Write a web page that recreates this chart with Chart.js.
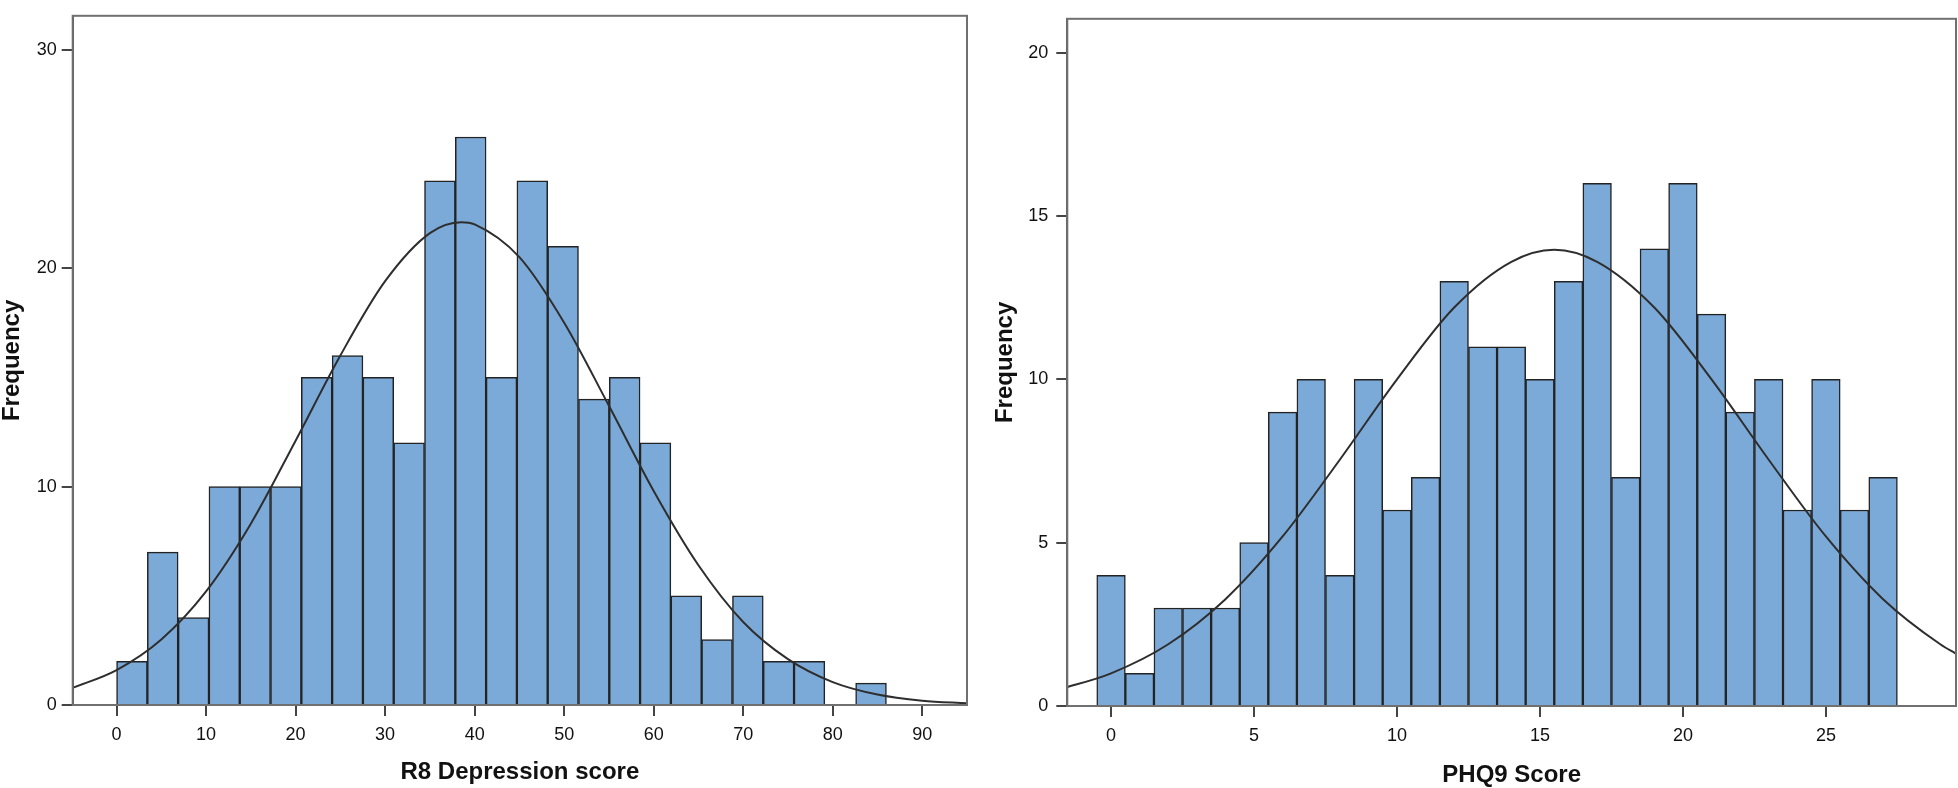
<!DOCTYPE html>
<html lang="en">
<head>
<meta charset="UTF-8">
<title>R8 and PHQ9 histograms</title>
<script src="https://cdn.jsdelivr.net/npm/chart.js"></script>
<style>
  body { margin: 0; background: #fff; }
  .panel { position: absolute; top: 0; height: 788px; }
  #left { left: 0; width: 975px; }
  #right { left: 975px; width: 983px; }
</style>
</head>
<body>
<div class="panel" id="left"><canvas id="r8Chart"></canvas></div>
<div class="panel" id="right"><canvas id="phqChart"></canvas></div>
<script>
// R8 Depression score: 25 bins of about 3.44 points
const r8BinCenters = [1.72, 5.16, 8.6, 12.04, 15.48, 18.92, 22.36, 25.8, 29.24, 32.68, 36.12, 39.56, 43.0,
                      46.44, 49.88, 53.32, 56.76, 60.2, 63.64, 67.08, 70.52, 73.96, 77.4, 80.84, 84.28];
const r8Counts = [2, 7, 4, 10, 10, 10, 15, 16, 15, 12, 24, 26, 15, 24, 21, 14, 15, 12, 5, 3, 5, 2, 2, 0, 1];
const r8XTicks = [0, 10, 20, 30, 40, 50, 60, 70, 80, 90];
const r8YTicks = [0, 10, 20, 30];
// normal curve
const r8CurveX = [-5, 0, 5, 10, 15, 20, 25, 30, 35, 38.5, 40, 45, 50, 55, 60, 65, 70, 75, 80, 85, 90, 95];
const r8CurveY = [0.77, 1.6, 3.0, 5.2, 8.3, 12.1, 16.0, 19.4, 21.6, 22.1, 22.0, 20.5, 17.5, 13.7, 9.8, 6.4, 3.8, 2.1, 1.05, 0.48, 0.2, 0.08];

// PHQ9 Score: one bar per score
const phqScores = [0, 1, 2, 3, 4, 5, 6, 7, 8, 9, 10, 11, 12, 13, 14, 15, 16, 17, 18, 19, 20, 21, 22, 23, 24, 25, 26, 27];
const phqCounts = [4, 1, 3, 3, 3, 5, 9, 10, 4, 10, 6, 7, 13, 11, 11, 10, 13, 16, 7, 14, 16, 12, 9, 10, 6, 10, 6, 7];
const phqXTicks = [0, 5, 10, 15, 20, 25];
const phqYTicks = [0, 5, 10, 15, 20];
const phqCurveX = [-2, -1.5, 0, 2, 4, 6, 8, 10, 12, 14, 15.5, 17, 19, 21, 23, 25, 27, 29, 29.5, 30];
const phqCurveY = [0.48, 0.59, 1.0, 1.89, 3.27, 5.19, 7.54, 10.0, 12.2, 13.6, 13.97, 13.6, 12.2, 10.0, 7.54, 5.19, 3.27, 1.89, 1.63, 1.39];

const FONT = "'Liberation Sans', Arial, sans-serif";

// grey box round the plot area
const frame = {
    id: 'frame',
    afterDatasetsDraw(chart) {
        const a = chart.chartArea;
        const ctx = chart.ctx;
        ctx.save();
        ctx.strokeStyle = '#707070';
        ctx.lineWidth = 2;
        ctx.strokeRect(a.left, a.top, a.right - a.left, a.bottom - a.top);
        ctx.restore();
    }
};

function histogram(canvasId, o) {
    const toPoints = (xs, ys) => xs.map((x, i) => ({ x: x, y: ys[i] }));
    const setTicks = list => scale => { scale.ticks = list.map(v => ({ value: v })); };
    const tickGrid = { drawOnChartArea: false, offset: false, tickLength: 11, color: '#444', lineWidth: 2 };
    const tickFont = { family: FONT, size: 18 };
    const titleFont = { family: FONT, size: 24, weight: 'bold', lineHeight: 1 };

    new Chart(document.getElementById(canvasId), {
        type: 'bar',
        data: {
            datasets: [
                {
                    type: 'line',
                    data: toPoints(o.curveX, o.curveY),
                    borderColor: '#2e2e2e',
                    borderWidth: 2,
                    pointRadius: 0,
                    tension: 0.4,
                    cubicInterpolationMode: 'monotone',
                    order: 0
                },
                {
                    data: toPoints(o.centers, o.counts),
                    backgroundColor: '#7baad8',
                    borderColor: '#232323',
                    borderWidth: 1.5,
                    barPercentage: 1,
                    categoryPercentage: 1,
                    order: 1
                }
            ]
        },
        options: {
            responsive: true,
            maintainAspectRatio: false,
            animation: false,
            layout: { padding: o.padding },
            plugins: { legend: { display: false }, tooltip: { enabled: false } },
            scales: {
                x: {
                    type: 'linear',
                    offset: false,
                    min: o.xMin,
                    max: o.xMax,
                    afterBuildTicks: setTicks(o.xTicks),
                    afterFit: s => { s.height = o.xHeight; },
                    grid: tickGrid,
                    border: { color: '#555', width: 2 },
                    ticks: { font: tickFont, color: '#111', padding: 8, maxRotation: 0 },
                    title: { display: true, text: o.xTitle, font: titleFont, color: '#111', padding: { top: 0, bottom: o.xTitlePad } }
                },
                y: {
                    min: 0,
                    max: o.yMax,
                    afterBuildTicks: setTicks(o.yTicks),
                    afterFit: s => { s.width = o.yWidth; },
                    grid: tickGrid,
                    border: { color: '#555', width: 2 },
                    ticks: { font: tickFont, color: '#111', padding: o.yTickPad },
                    title: { display: true, text: 'Frequency', font: titleFont, color: '#111', padding: { top: o.yTitlePad, bottom: 0 } }
                }
            }
        },
        plugins: [frame]
    });
}

histogram('r8Chart', {
    centers: r8BinCenters, counts: r8Counts, curveX: r8CurveX, curveY: r8CurveY,
    xTicks: r8XTicks, yTicks: r8YTicks, xMin: -4.9, xMax: 95, yMax: 31.55,
    xTitle: 'R8 Depression score', padding: { top: 2, right: 8, left: 0, bottom: 0 },
    xHeight: 83, yWidth: 72.7, yTickPad: 5, xTitlePad: 4, yTitlePad: 0
});

histogram('phqChart', {
    centers: phqScores, counts: phqCounts, curveX: phqCurveX, curveY: phqCurveY,
    xTicks: phqXTicks, yTicks: phqYTicks, xMin: -1.53, xMax: 29.55, yMax: 21.04,
    xTitle: 'PHQ9 Score', padding: { top: 5, right: 2, left: 0, bottom: 0 },
    xHeight: 82, yWidth: 92.3, yTickPad: 8, xTitlePad: 1, yTitlePad: 18
});
</script>
</body>
</html>
